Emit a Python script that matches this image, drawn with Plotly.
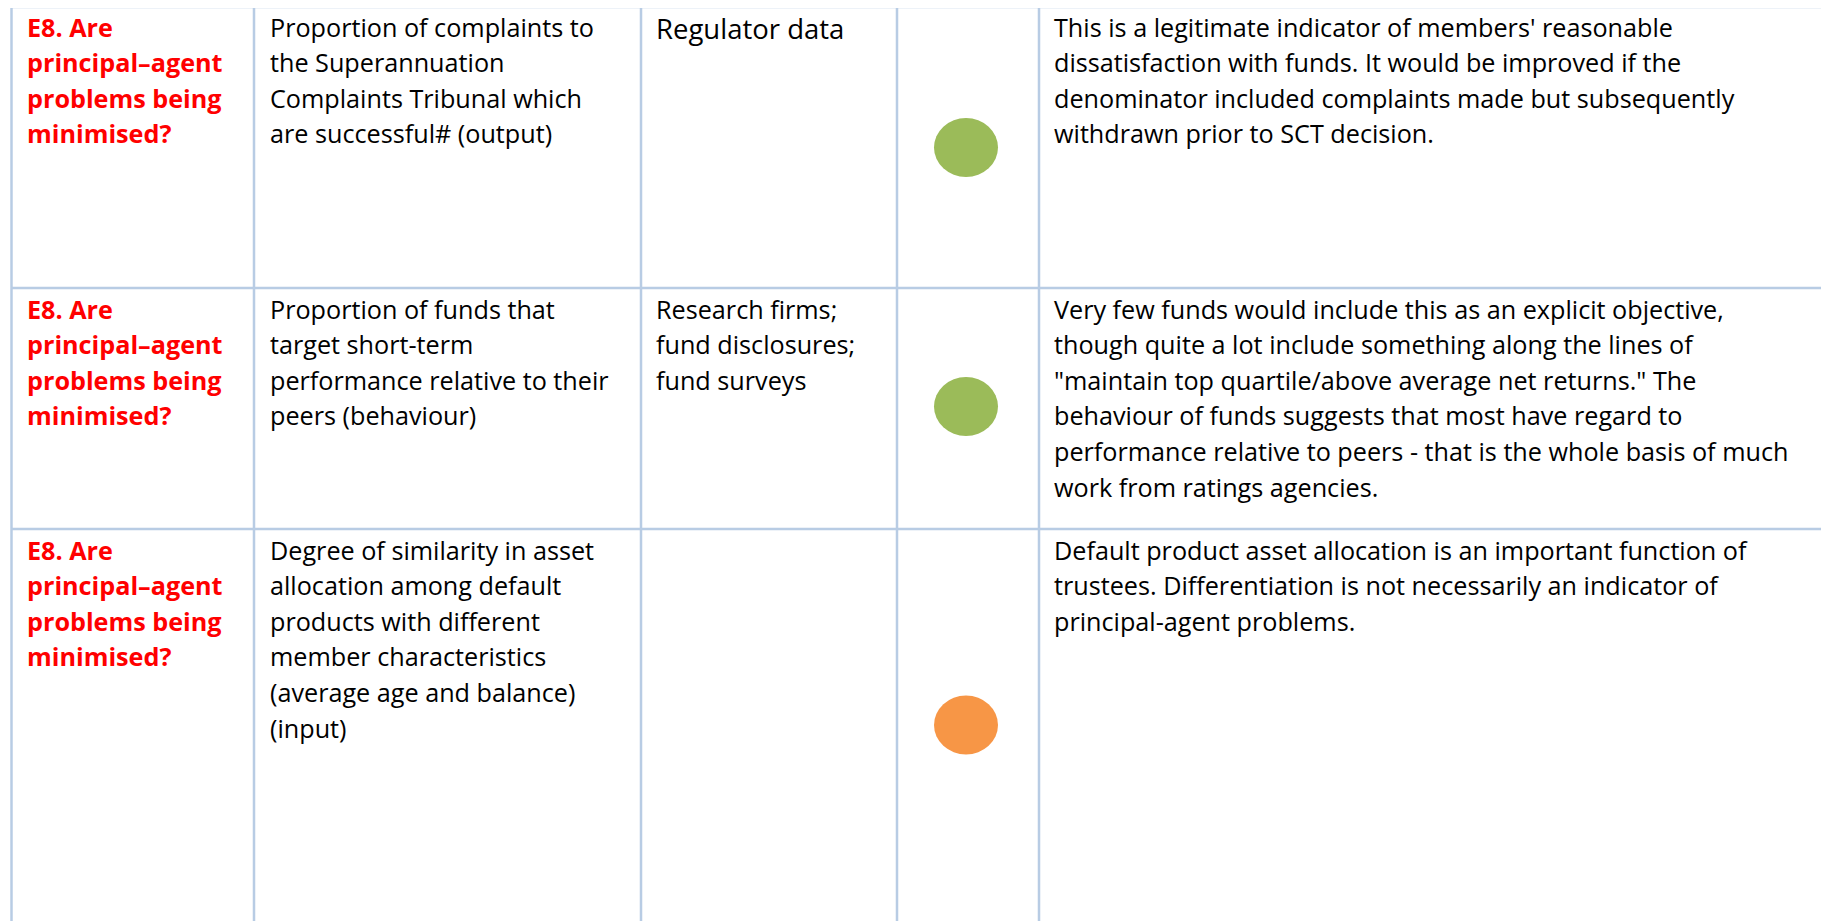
import plotly.graph_objects as go

# ---- data ----
questions = [
    ["E8. Are", "principal\u2013agent", "problems being", "minimised?"],
    ["E8. Are", "principal\u2013agent", "problems being", "minimised?"],
    ["E8. Are", "principal\u2013agent", "problems being", "minimised?"],
]
indicators = [
    ["Proportion of complaints to", "the Superannuation", "Complaints Tribunal which", "are successful# (output)"],
    ["Proportion of funds that", "target short-term", "performance relative to their", "peers (behaviour)"],
    ["Degree of similarity in asset", "allocation among default", "products with different",
     "member characteristics", "(average age and balance)", "(input)"],
]
sources = [
    ["Regulator data"],
    ["Research firms;", "fund disclosures;", "fund surveys"],
    [],
]
ratings = ["green", "green", "orange"]
comments = [
    ["This is a legitimate indicator of members' reasonable",
     "dissatisfaction with funds. It would be improved if the",
     "denominator included complaints made but subsequently",
     "withdrawn prior to SCT decision."],
    ["Very few funds would include this as an explicit objective,",
     "though quite a lot include something along the lines of",
     "\"maintain top quartile/above average net returns.\" The",
     "behaviour of funds suggests that most have regard to",
     "performance relative to peers - that is the whole basis of much",
     "work from ratings agencies."],
    ["Default product asset allocation is an important function of",
     "trustees. Differentiation is not necessarily an indicator of",
     "principal-agent problems."],
]

# ---- layout constants (page pixel coordinates) ----
W, H = 1829, 921
OFF = 8  # page body margin
col_lines = [11.5, 254, 641, 897, 1039]
row_lines = [7, 288, 529, 925]
text_x = [25, 268, 654, None, 1052]
line_gap = 35.6
first_off = [19.5, 20.5, 20.5]
rating_colors = {"green": "#9BBB59", "orange": "#F79646"}
grid_color = "#B8CCE4"
FONT = "Open Sans, sans-serif"
FS = 25.2

fig = go.Figure()
shapes = []
annotations = []

for x in col_lines:
    shapes.append(dict(type="line", x0=x, x1=x, y0=row_lines[0], y1=H + 20,
                       line=dict(color=grid_color, width=2.5), layer="below"))
for y in row_lines[:-1]:
    shapes.append(dict(type="line", x0=col_lines[0], x1=W + 20, y0=y, y1=y,
                       line=dict(color=grid_color, width=2.5), layer="below"))


def add_lines(lines, x, top, off, color="#000000", bold=False, size=FS):
    for i, t in enumerate(lines):
        annotations.append(dict(
            x=x, y=top + off + i * line_gap, xref="x", yref="y",
            text=f"<b>{t}</b>" if bold else t, showarrow=False,
            xanchor="left", yanchor="middle",
            font=dict(family=FONT, size=size, color=color)))


for r in range(3):
    top = row_lines[r]
    off = first_off[r]
    add_lines(questions[r], text_x[0], top, off, color="#FF0000", bold=True)
    add_lines(indicators[r], text_x[1], top, off)
    if r == 0:
        add_lines(sources[r], text_x[2], top, off + 1.5, size=27.5)
    else:
        add_lines(sources[r], text_x[2], top, off)
    add_lines(comments[r], text_x[4], top, off)
    cx = (col_lines[3] + col_lines[4]) / 2 - 2
    cy = (row_lines[r] + row_lines[r + 1]) / 2 - (0 if r == 0 else 2)
    shapes.append(dict(type="circle", xref="x", yref="y",
                       x0=cx - 32, x1=cx + 32, y0=cy - 29.5, y1=cy + 29.5,
                       fillcolor=rating_colors[ratings[r]], line=dict(width=0)))

fig.update_layout(
    width=W, height=H, margin=dict(l=0, r=0, t=0, b=0),
    paper_bgcolor="white", plot_bgcolor="white",
    xaxis=dict(range=[OFF, W + OFF], visible=False, fixedrange=True),
    yaxis=dict(range=[H + OFF, OFF], visible=False, fixedrange=True),
    shapes=shapes, annotations=annotations, showlegend=False,
)
fig.write_html("out.html")
